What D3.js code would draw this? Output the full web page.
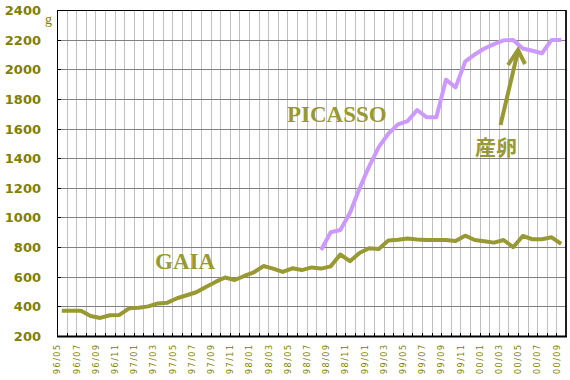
<!DOCTYPE html>
<html><head><meta charset="utf-8">
<script src="https://cdn.jsdelivr.net/npm/d3@7"></script>
<style>html,body{margin:0;padding:0;background:#fff;}svg{display:block;}</style>
</head><body>
<svg id="c" width="570" height="380"></svg>
<script>
const months = ["96/05","96/06","96/07","96/08","96/09","96/10","96/11","96/12",
"97/01","97/02","97/03","97/04","97/05","97/06","97/07","97/08","97/09","97/10","97/11","97/12",
"98/01","98/02","98/03","98/04","98/05","98/06","98/07","98/08","98/09","98/10","98/11","98/12",
"99/01","99/02","99/03","99/04","99/05","99/06","99/07","99/08","99/09","99/10","99/11","99/12",
"00/01","00/02","00/03","00/04","00/05","00/06","00/07","00/08","00/09"];
const tickLabels = ["96/05","96/07","96/09","96/11","97/01","97/03","97/05","97/07","97/09","97/11",
"98/01","98/03","98/05","98/07","98/09","98/11","99/01","99/03","99/05","99/07","99/09","99/11",
"00/01","00/03","00/05","00/07","00/09"];
const gaia = [370,370,370,335,322,340,342,387,390,400,420,425,455,475,495,530,565,595,578,605,
630,672,655,632,657,645,663,655,670,750,705,760,792,787,845,850,858,852,848,848,848,841,877,848,
840,830,848,799,875,853,853,866,821];
const picasso = [null,null,null,null,null,null,null,null,null,null,null,null,null,null,null,null,
null,null,null,null,null,null,null,null,null,null,null,780,900,915,1030,1195,1345,1475,1565,1628,
1650,1725,1676,1676,1930,1878,2051,2100,2140,2170,2195,2198,2140,2125,2108,2198,2198];
const yTicks = [200,400,600,800,1000,1200,1400,1600,1800,2000,2200,2400];

const svg = d3.select("#c");
const L = 57, R = 566, T = 10, B = 336;
const x = d3.scaleBand().domain(months).range([L, R]).padding(0);
const y = d3.scaleLinear().domain([200, 2400]).range([B, T]);
const cx = d => x(d) + x.bandwidth() / 2;
const olive = "#808000", lineOlive = "#999933";

// vertical gridlines at category boundaries
svg.append("g").selectAll("line").data(months.slice(1)).join("line")
  .attr("x1", d => Math.round(x(d)) + 0.5).attr("x2", d => Math.round(x(d)) + 0.5)
  .attr("y1", T).attr("y2", B).attr("stroke", "#c0c0c0").attr("stroke-width", 1);
// horizontal gridlines
svg.append("g").selectAll("line").data(yTicks.slice(1, -1)).join("line")
  .attr("x1", L).attr("x2", R)
  .attr("y1", d => Math.round(y(d)) + 0.5).attr("y2", d => Math.round(y(d)) + 0.5)
  .attr("stroke", "#808080").attr("stroke-width", 1);

// frame
svg.append("rect").attr("x", L + 0.5).attr("y", T + 0.5).attr("width", R - L - 0.5).attr("height", B - T)
  .attr("fill", "none").attr("stroke", "#000").attr("stroke-width", 1);
svg.append("line").attr("x1", R).attr("x2", R).attr("y1", T).attr("y2", B + 1)
  .attr("stroke", "#000").attr("stroke-width", 1.5);
svg.append("line").attr("x1", L).attr("x2", R + 1).attr("y1", B + 0.5).attr("y2", B + 0.5)
  .attr("stroke", "#000").attr("stroke-width", 2);

// y ticks (inward)
svg.append("g").selectAll("line").data(yTicks).join("line")
  .attr("x1", L).attr("x2", L + 4)
  .attr("y1", d => Math.round(y(d)) + 0.5).attr("y2", d => Math.round(y(d)) + 0.5)
  .attr("stroke", "#000");
// x ticks (inward)
svg.append("g").selectAll("line").data(months.slice(1)).join("line")
  .attr("x1", d => Math.round(x(d)) + 0.5).attr("x2", d => Math.round(x(d)) + 0.5)
  .attr("y1", B - 3).attr("y2", B).attr("stroke", "#000");

// y labels
svg.append("g").selectAll("text").data(yTicks).join("text")
  .attr("x", 41).attr("y", d => y(d) + 5)
  .attr("text-anchor", "end").attr("fill", olive)
  .style("font-family", "DejaVu Sans").style("font-weight", "bold").style("font-size", "13px")
  .text(d => d);
svg.append("text").attr("x", 48.5).attr("y", 24).attr("text-anchor", "middle")
  .attr("fill", olive).style("font-family", "Liberation Serif").style("font-size", "14px").text("g");

// x labels
svg.append("g").selectAll("text").data(tickLabels).join("text")
  .attr("transform", d => `translate(${cx(d) - 1.5},345) rotate(-90)`)
  .attr("text-anchor", "end").attr("fill", olive)
  .attr("textLength", 29).attr("lengthAdjust", "spacing")
  .style("font-family", "DejaVu Sans").style("font-size", "8px")
  .text(d => d);

// lines
const line = d3.line().defined(d => d[1] != null).x(d => cx(d[0])).y(d => y(d[1]));
svg.append("path").datum(months.map((m, i) => [m, gaia[i]]))
  .attr("d", line).attr("fill", "none").attr("stroke", lineOlive).attr("stroke-width", 4)
  .attr("stroke-linejoin", "round");
svg.append("path").datum(months.map((m, i) => [m, picasso[i]]))
  .attr("d", line).attr("fill", "none").attr("stroke", "#cc99ff").attr("stroke-width", 4)
  .attr("stroke-linejoin", "round");

// annotations
const serifBold = s => s.style("font-family", "Liberation Serif").style("font-weight", "bold");
svg.append("text").attr("x", 287).attr("y", 122).attr("fill", lineOlive)
  .call(serifBold).style("font-size", "23px").text("PICASSO");
svg.append("text").attr("x", 155).attr("y", 269).attr("fill", lineOlive)
  .call(serifBold).style("font-size", "23px").text("GAIA");
svg.append("text").attr("x", 475).attr("y", 155).attr("fill", lineOlive)
  .style("font-family", "Noto Sans CJK JP").style("font-weight", "bold").style("font-size", "21px").text("産卵");
svg.append("line").attr("x1", 500.5).attr("y1", 125).attr("x2", 517.5).attr("y2", 53)
  .attr("stroke", lineOlive).attr("stroke-width", 4);
svg.append("polyline").attr("points", "508,65 518,50 525,64")
  .attr("fill", "none").attr("stroke", lineOlive).attr("stroke-width", 4).attr("stroke-linejoin", "miter");
</script>
</body></html>
